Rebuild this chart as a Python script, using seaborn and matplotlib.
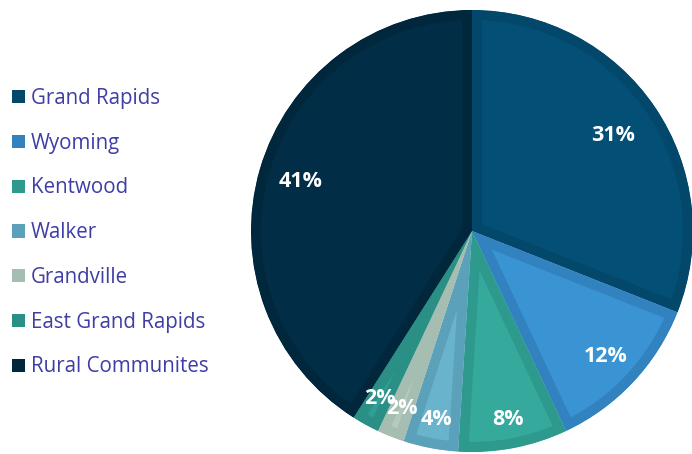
import matplotlib
matplotlib.use("Agg")
import matplotlib.pyplot as plt
import seaborn as sns
import numpy as np
from matplotlib.patches import Patch

categories = ["Grand Rapids", "Wyoming", "Kentwood", "Walker", "Grandville",
              "East Grand Rapids", "Rural Communites"]
values = [31, 12, 8, 4, 2, 2, 41]
fill_colors = ["#044F75", "#3A93D2", "#36A99D", "#6AB3CC", "#B4CABF", "#309E92", "#012E46"]
edge_colors = ["#03486B", "#3182BF", "#2E998D", "#5AA1B9", "#A6BDB2", "#2A9085", "#01273C"]

sns.set_theme(style="white")
plt.rcParams["font.family"] = ["Open Sans", "DejaVu Sans"]

fig = plt.figure(figsize=(6.92, 4.54), dpi=100)
cx, cy, r = 472, 231, 221
W, H = 692, 454
ax = fig.add_axes([(cx - r) / W, (H - cy - r) / H, 2 * r / W, 2 * r / H])

wedges, _ = ax.pie(values, colors=fill_colors, startangle=90, counterclock=False,
                   radius=1, wedgeprops=dict(linewidth=0))
for w, ec in zip(wedges, edge_colors):
    w.set_edgecolor(ec)
    w.set_linewidth(14.4)
    w.set_joinstyle("round")
    w.set_clip_on(True)
    w.set_clip_path(w)

label_r = [0.77, 0.83, 0.87, 0.87, 0.865, 0.865, 0.81]
for w, v, lr in zip(wedges, values, label_r):
    ang = np.deg2rad((w.theta1 + w.theta2) / 2)
    ax.text(lr * np.cos(ang), lr * np.sin(ang), f"{v}%", color="white",
            fontsize=15.5, fontweight="bold", ha="center", va="center")

ax.set_xlim(-1, 1)
ax.set_ylim(-1, 1)
ax.set_aspect("equal")
ax.axis("off")

handles = [Patch(facecolor=c, edgecolor="none") for c in edge_colors]
leg = fig.legend(handles, categories, loc="upper left", bbox_to_anchor=(12 / W, 1 - 88 / H),
                 frameon=False, fontsize=14.8, labelspacing=1.155, handlelength=0.62,
                 handleheight=0.62, handletextpad=0.3, borderaxespad=0, borderpad=0)
for t in leg.get_texts():
    t.set_color("#3F3DA6")

fig.savefig("out.png", dpi=100)
